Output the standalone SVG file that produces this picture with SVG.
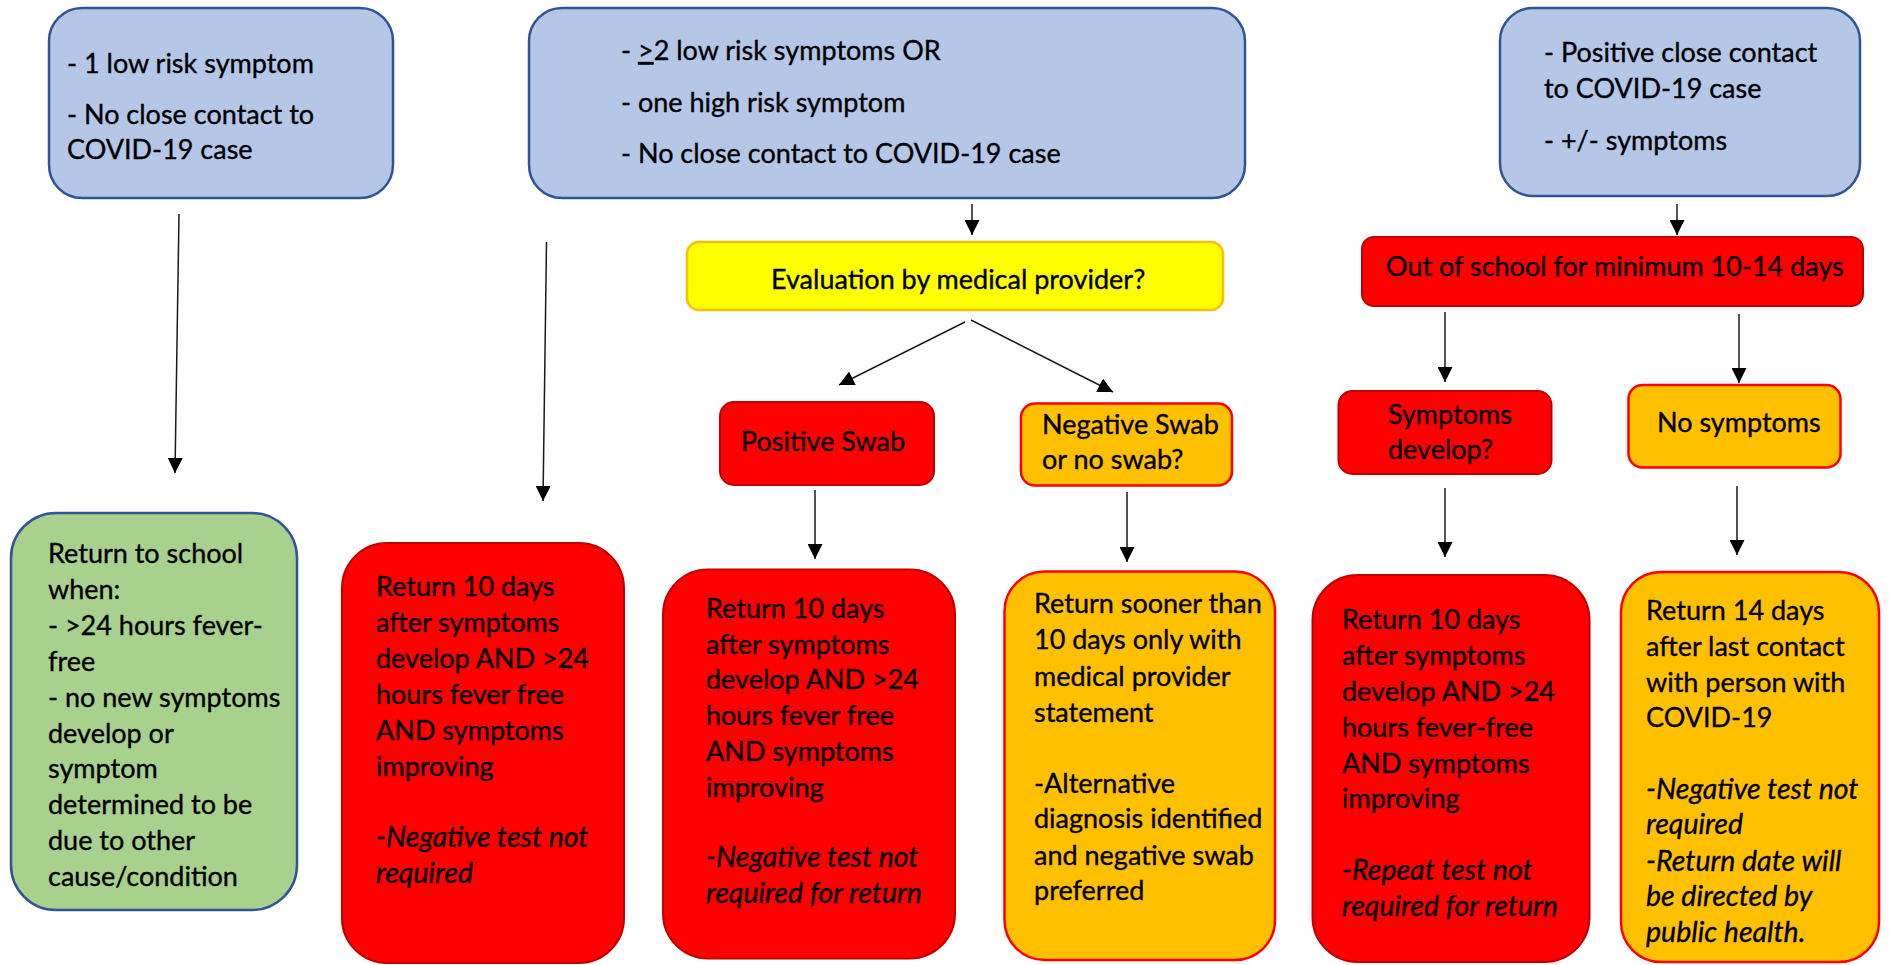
<svg xmlns="http://www.w3.org/2000/svg" width="1889" height="965" viewBox="0 0 1889 965">
<style>
text{font-family:Lato,"Liberation Sans",sans-serif;font-size:27px;fill:#000;stroke:#000;stroke-width:0.35}
.it{font-style:italic;font-size:28.5px}
.blue{fill:#B4C7E7;stroke:#2F5597;stroke-width:2.5}
.green{fill:#A9D18E;stroke:#2F5597;stroke-width:2.5}
.red{fill:#FF0000;stroke:#C00000;stroke-width:2}
.orange{fill:#FFC000;stroke:#FF0000;stroke-width:2.5}
.yellow{fill:#FFFF00;stroke:#FFC000;stroke-width:2.5}
.con line{stroke:#1a1a1a;stroke-width:1.5;marker-end:url(#ah)}
</style>
<defs>
<marker id="ah" markerUnits="userSpaceOnUse" markerWidth="15" markerHeight="15" viewBox="0 0 15 15" refX="15" refY="7.5" orient="auto">
<path d="M0,0 L15,7.5 L0,15 z" fill="#000"/>
</marker>
</defs>
<rect width="1889" height="965" fill="#fff"/>

<g id="n_low1">
<rect class="blue" x="49" y="8" width="344" height="190" rx="33"/>
<text x="67" y="73">- 1 low risk symptom</text>
<text x="67" y="124">- No close contact to</text>
<text x="67" y="159">COVID-19 case</text>
</g>

<g id="n_low2">
<rect class="blue" x="529" y="8" width="716" height="190" rx="33"/>
<text x="621" y="60">- <tspan text-decoration="underline">&gt;</tspan>2 low risk symptoms OR</text>
<text x="621" y="112">- one high risk symptom</text>
<text x="621" y="163">- No close contact to COVID-19 case</text>
</g>

<g id="n_contact">
<rect class="blue" x="1500" y="8" width="360" height="188" rx="33"/>
<text x="1544" y="62">- Positive close contact</text>
<text x="1544" y="98">to COVID-19 case</text>
<text x="1544" y="150">- +/- symptoms</text>
</g>

<g id="n_eval">
<rect class="yellow" x="687" y="242" width="536" height="68" rx="12"/>
<text x="771" y="289">Evaluation by medical provider?</text>
</g>

<g id="n_out">
<rect class="red" x="1362" y="237" width="501" height="69" rx="12"/>
<text x="1386" y="276">Out of school for minimum 10-14 days</text>
</g>

<g id="n_pos">
<rect class="red" x="720" y="402" width="214" height="83" rx="14"/>
<text x="741" y="451">Positive Swab</text>
</g>

<g id="n_neg">
<rect class="orange" x="1021" y="403.5" width="211" height="82" rx="14"/>
<text x="1042" y="434">Negative Swab</text>
<text x="1042" y="469">or no swab?</text>
</g>

<g id="n_symdev">
<rect class="red" x="1338.5" y="391" width="213" height="83" rx="14"/>
<text x="1388" y="424">Symptoms</text>
<text x="1388" y="459">develop?</text>
</g>

<g id="n_nosym">
<rect class="orange" x="1628.5" y="385" width="212" height="82.5" rx="14"/>
<text x="1657" y="432">No symptoms</text>
</g>

<g id="n_green">
<rect class="green" x="11" y="513" width="286" height="397" rx="45"/>
<text x="48" y="563">Return to school</text>
<text x="48" y="599">when:</text>
<text x="48" y="635">- &gt;24 hours fever-</text>
<text x="48" y="671">free</text>
<text x="48" y="707">- no new symptoms</text>
<text x="48" y="743">develop or</text>
<text x="48" y="778">symptom</text>
<text x="48" y="814">determined to be</text>
<text x="48" y="850">due to other</text>
<text x="48" y="886">cause/condition</text>
</g>

<g id="n_red1">
<rect class="red" x="342" y="543" width="282" height="420" rx="45"/>
<text x="376" y="596">Return 10 days</text>
<text x="376" y="632">after symptoms</text>
<text x="376" y="668">develop AND &gt;24</text>
<text x="376" y="704">hours fever free</text>
<text x="376" y="740">AND symptoms</text>
<text x="376" y="776">improving</text>
<text class="it" x="376" y="847">-Negative test not</text>
<text class="it" x="376" y="883">required</text>
</g>

<g id="n_red2">
<rect class="red" x="663" y="569.5" width="292" height="389" rx="45"/>
<text x="706" y="618">Return 10 days</text>
<text x="706" y="654">after symptoms</text>
<text x="706" y="689">develop AND &gt;24</text>
<text x="706" y="725">hours fever free</text>
<text x="706" y="761">AND symptoms</text>
<text x="706" y="797">improving</text>
<text class="it" x="706" y="867">-Negative test not</text>
<text class="it" x="706" y="903">required for return</text>
</g>

<g id="n_orange1">
<rect class="orange" x="1004.5" y="571.5" width="270.5" height="388.5" rx="40"/>
<text x="1034" y="613">Return sooner than</text>
<text x="1034" y="649">10 days only with</text>
<text x="1034" y="686">medical provider</text>
<text x="1034" y="722">statement</text>
<text x="1034" y="793">-Alternative</text>
<text x="1034" y="828">diagnosis identified</text>
<text x="1034" y="865">and negative swab</text>
<text x="1034" y="900">preferred</text>
</g>

<g id="n_red3">
<rect class="red" x="1312.5" y="575" width="277" height="387" rx="45"/>
<text x="1342" y="629">Return 10 days</text>
<text x="1342" y="665">after symptoms</text>
<text x="1342" y="701">develop AND &gt;24</text>
<text x="1342" y="737">hours fever-free</text>
<text x="1342" y="773">AND symptoms</text>
<text x="1342" y="808">improving</text>
<text class="it" x="1342" y="880">-Repeat test not</text>
<text class="it" x="1342" y="916">required for return</text>
</g>

<g id="n_orange2">
<rect class="orange" x="1621" y="572" width="258" height="390" rx="40"/>
<text x="1646" y="620">Return 14 days</text>
<text x="1646" y="656">after last contact</text>
<text x="1646" y="692">with person with</text>
<text x="1646" y="727">COVID-19</text>
<text class="it" x="1646" y="799">-Negative test not</text>
<text class="it" x="1646" y="834">required</text>
<text class="it" x="1646" y="871">-Return date will</text>
<text class="it" x="1646" y="906">be directed by</text>
<text class="it" x="1646" y="942">public health.</text>
</g>

<g id="connectors" class="con">
<line x1="179" y1="214" x2="175" y2="473"/>
<line x1="546.5" y1="242" x2="543" y2="501"/>
<line x1="972" y1="204" x2="972" y2="235"/>
<line x1="965" y1="322" x2="839" y2="385"/>
<line x1="971" y1="320" x2="1113" y2="392"/>
<line x1="815" y1="490" x2="815" y2="559"/>
<line x1="1127" y1="492" x2="1127" y2="562"/>
<line x1="1677" y1="204" x2="1677" y2="235"/>
<line x1="1445" y1="312" x2="1445" y2="382"/>
<line x1="1739" y1="314" x2="1739" y2="383"/>
<line x1="1445" y1="488" x2="1445" y2="557"/>
<line x1="1737" y1="486" x2="1737" y2="555"/>
</g>
</svg>
